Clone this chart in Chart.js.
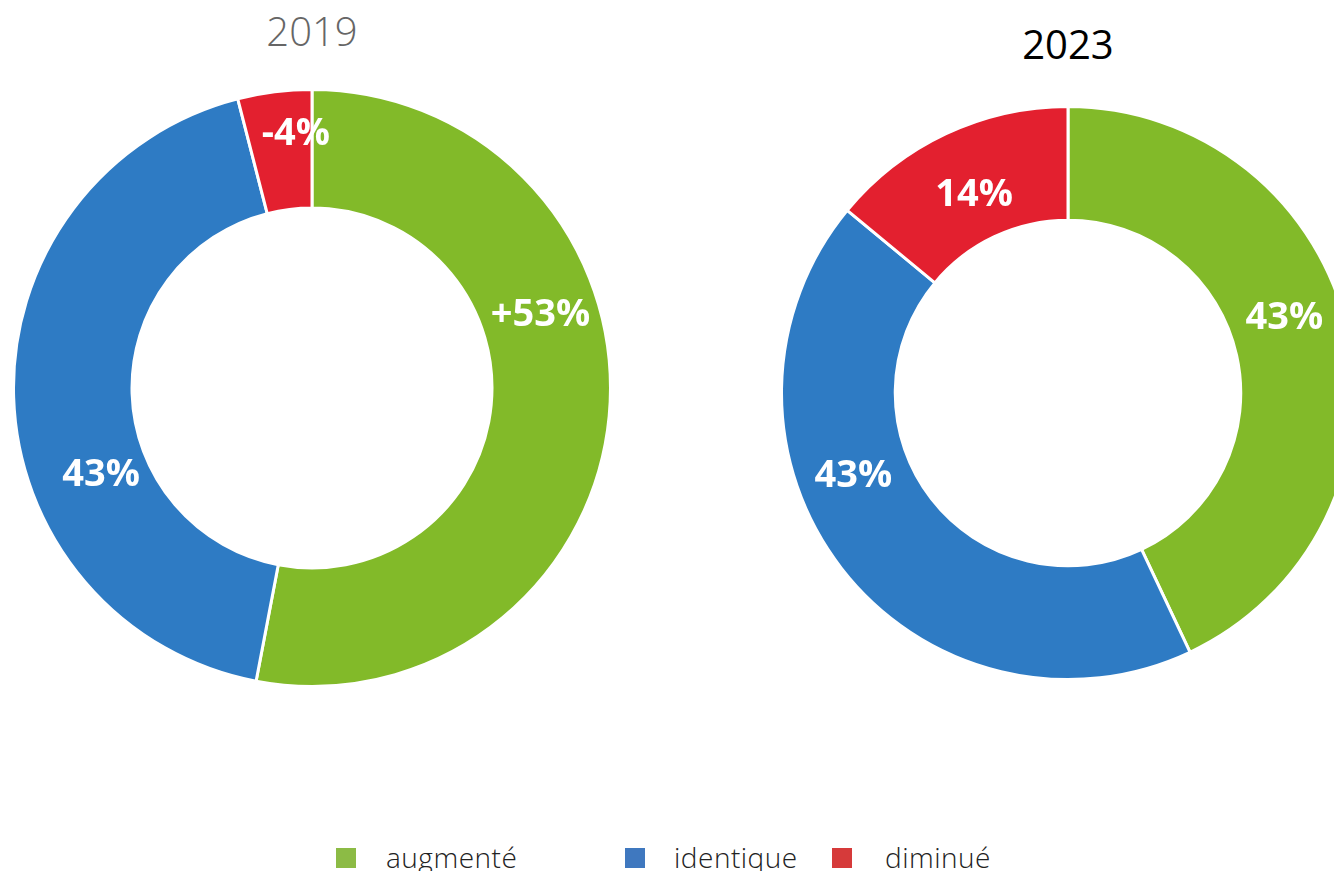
<!DOCTYPE html>
<html>
<head>
<meta charset="utf-8">
<script src="https://cdn.jsdelivr.net/npm/chart.js@4.4.0/dist/chart.umd.min.js"></script>
<style>
  html, body { margin: 0; padding: 0; background: #fff; overflow: hidden; width: 1334px; height: 871px; }
  body { position: relative; font-family: "Open Sans", "Noto Sans", sans-serif; }
  .title { position: absolute; font-size: 40px; text-align: center; width: 300px; line-height: 1; }
  .box { position: absolute; }
  .legend { position: absolute; top: 841px; font-size: 28px; font-weight: 300; color: #222; line-height: 32px; letter-spacing: 0.5px; }
  .sw { position: absolute; width: 20px; height: 20px; top: 848px; }
</style>
</head>
<body>
<div class="title" style="left:162px; top:11px; color:#666; font-weight:300;">2019</div>
<div class="title" style="left:918px; top:24px; color:#000; font-weight:400;">2023</div>

<div class="box" style="left:12px; top:88px; width:600px; height:600px;"><canvas id="c2019"></canvas></div>
<div class="box" style="left:780px; top:105px; width:576px; height:576px;"><canvas id="c2023"></canvas></div>

<div class="sw" style="left:336px; background:#8cbb45;"></div>
<div class="legend" style="left:386px;">augmenté</div>
<div class="sw" style="left:625px; background:#3f78bf;"></div>
<div class="legend" style="left:674px;">identique</div>
<div class="sw" style="left:832px; background:#d63a3a;"></div>
<div class="legend" style="left:885px;">diminué</div>

<script>
const categories = ['augmenté', 'identique', 'diminué'];
const values2019 = [53, 43, 4];
const values2023 = [43, 43, 14];
const labels2019 = ['+53%', '43%', '-4%'];
const labels2023 = ['43%', '43%', '14%'];
const colors = ['#82ba29', '#2e7bc4', '#e3202f'];

// where the label sits inside each slice: along the arc (0 = start, 1 = end)
// and across the ring (0 = inner edge, 1 = outer edge)
const labelAt2019 = [0.377, 0.37, 0.75];
const labelRing2019 = [0.51, 0.40, 0.64];
const labelAt2023 = [0.455, 0.61, 0.5];
const labelRing2023 = [0.50, 0.50, 0.42];

const sliceLabels = {
  id: 'sliceLabels',
  afterDatasetsDraw(chart, args, opts) {
    const ctx = chart.ctx;
    const meta = chart.getDatasetMeta(0);
    ctx.save();
    ctx.fillStyle = '#fff';
    ctx.font = '700 38px "Open Sans", "Noto Sans", sans-serif';
    ctx.textAlign = 'center';
    ctx.textBaseline = 'middle';
    meta.data.forEach((arc, i) => {
      const p = arc.getProps(['x', 'y', 'startAngle', 'endAngle', 'innerRadius', 'outerRadius'], true);
      const a = p.startAngle + (p.endAngle - p.startAngle) * opts.at[i];
      const r = p.innerRadius + (p.outerRadius - p.innerRadius) * opts.ring[i];
      ctx.fillText(opts.text[i], p.x + Math.cos(a) * r, p.y + Math.sin(a) * r + 2);
    });
    ctx.restore();
  }
};

function makeDoughnut(id, values, text, at, ring) {
  new Chart(document.getElementById(id), {
    type: 'doughnut',
    data: {
      labels: categories,
      datasets: [{
        data: values,
        backgroundColor: colors,
        borderColor: '#fff',
        borderWidth: 3
      }]
    },
    options: {
      responsive: true,
      maintainAspectRatio: false,
      animation: false,
      cutout: '60.3%',
      layout: { padding: 0 },
      plugins: {
        legend: { display: false },
        tooltip: { enabled: false },
        sliceLabels: { text: text, at: at, ring: ring }
      }
    },
    plugins: [sliceLabels]
  });
}

makeDoughnut('c2019', values2019, labels2019, labelAt2019, labelRing2019);
makeDoughnut('c2023', values2023, labels2023, labelAt2023, labelRing2023);
</script>
</body>
</html>
